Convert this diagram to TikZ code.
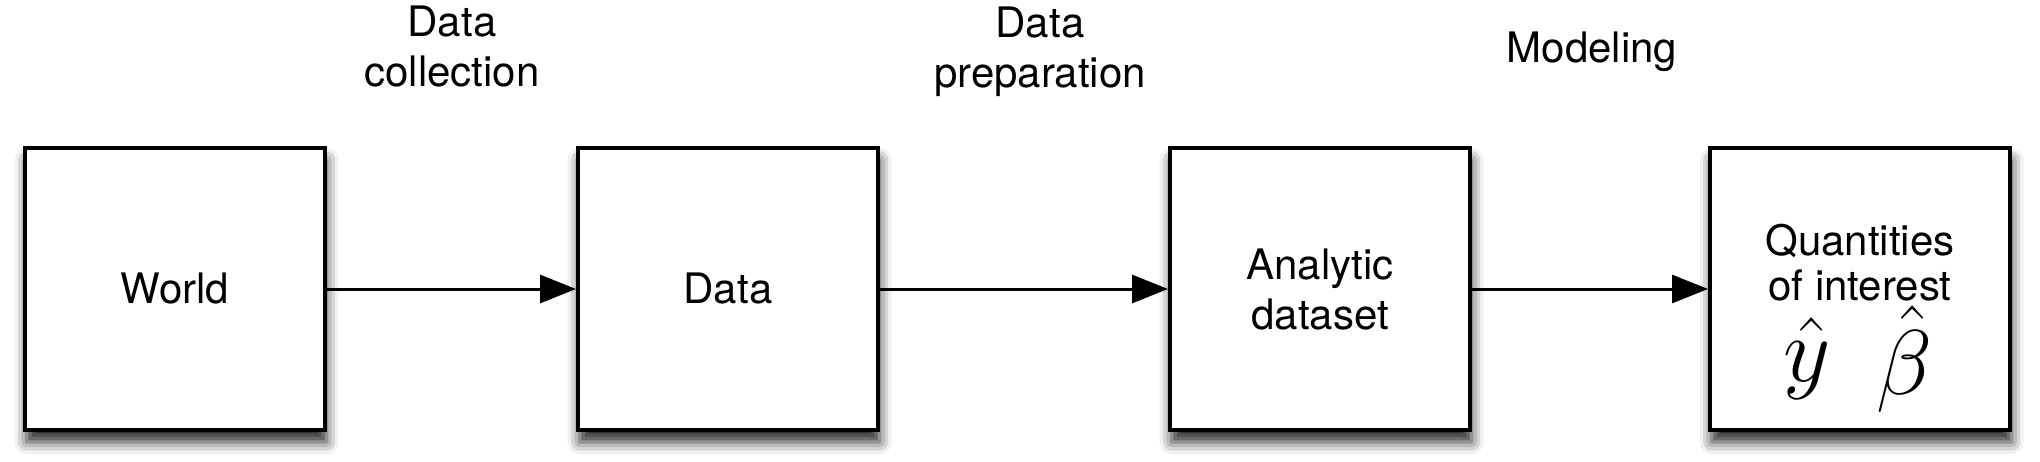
\RequirePackage{fix-cm}
\documentclass[tikz,border=0pt]{standalone}
\usepackage{fontspec}
\setmainfont{TeX Gyre Heros}
\usetikzlibrary{arrows.meta,shadows.blur}
\begin{document}
\begin{tikzpicture}[x=0.5pt,y=-0.5pt,
  stage/.style={draw=black, line width=2pt, fill=white, minimum width=150pt, minimum height=141pt,
    inner sep=0pt, align=center, font=\fontsize{21}{25}\selectfont,
    blur shadow={shadow xshift=0.8pt, shadow yshift=-6pt, shadow blur radius=6pt, shadow opacity=85}},
  lab/.style={align=center, font=\fontsize{21}{25}\selectfont, inner sep=0pt},
  flow/.style={line width=1.5pt, -{Triangle[length=18pt,width=14pt]}}]
\useasboundingbox (0,0) rectangle (2040,461);
\node[stage] (world) at (175,289) {World};
\node[stage] (data) at (728,289) {Data};
\node[stage] (analytic) at (1320,289) {Analytic\\dataset};
\node[stage] (qoi) at (1860,289) {};
\node[lab, anchor=base] (q1) at (1860,255) {Quantities};
\node[lab, anchor=base] (q2) at (1860,300) {of interest};
\node[lab, anchor=base, font=\fontsize{46}{46}\selectfont] (q3) at (1858,381) {$\hat{y}\hspace{0.5em}\raisebox{-6.5pt}{$\hat{\beta}$}$};
\draw[flow] (world) -- (data);
\draw[flow] (data) -- (analytic);
\draw[flow] (analytic) -- (qoi);
\node[lab] (lcollect) at (452,47) {Data\\collection};
\node[lab] (lprep) at (1040,51.3) {Data\\preparation};
\node[lab, anchor=base] (lmodel) at (1592,62) {Modeling};
\end{tikzpicture}
\end{document}
